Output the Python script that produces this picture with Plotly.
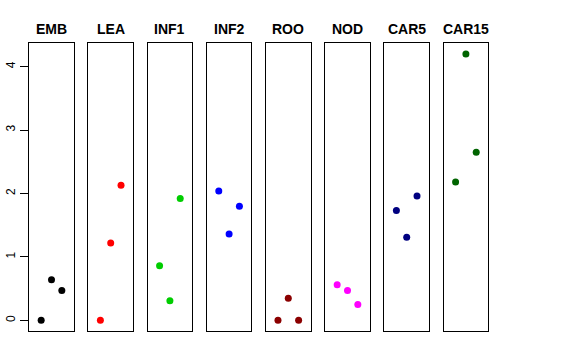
import plotly.graph_objects as go

categories = ["EMB", "LEA", "INF1", "INF2", "ROO", "NOD", "CAR5", "CAR15"]
colors = ["#000000", "#FF0000", "#00CD00", "#0000FF", "#8B0000", "#FF00FF", "#000080", "#006400"]
x_pos = [1, 2, 3]
values = {
    "EMB":   [0.0, 0.64, 0.47],
    "LEA":   [0.0, 1.22, 2.13],
    "INF1":  [0.86, 0.31, 1.92],
    "INF2":  [2.04, 1.36, 1.80],
    "ROO":   [0.0, 0.35, 0.0],
    "NOD":   [0.56, 0.47, 0.25],
    "CAR5":  [1.73, 1.31, 1.96],
    "CAR15": [2.18, 4.20, 2.65],
}
y_ticks = [0, 1, 2, 3, 4]

W, H = 576, 360
fig = go.Figure()
left0, step, pw = 29.2, 59.2, 44.6
top_px, bot_px = 43.3, 331.0
ymin, ymax = -0.168, 4.368

for i, cat in enumerate(categories):
    n = "" if i == 0 else str(i + 1)
    fig.add_trace(go.Scatter(
        x=x_pos, y=values[cat], mode="markers",
        marker=dict(color=colors[i], size=7, line=dict(width=0)),
        xaxis="x" + n, yaxis="y" + n, showlegend=False, hoverinfo="skip"))
    l = left0 + step * i
    dom_x = [l / W, (l + pw) / W]
    dom_y = [1 - bot_px / H, 1 - top_px / H]
    fig.layout["xaxis" + n] = dict(domain=dom_x, range=[-0.16, 4.16], showgrid=False,
                                   zeroline=False, showticklabels=False, ticks="",
                                   showline=True, mirror=True, linecolor="black",
                                   linewidth=1, anchor="y" + n, fixedrange=True)
    ya = dict(domain=dom_y, range=[ymin, ymax], showgrid=False, zeroline=False,
              showline=True, mirror=True, linecolor="black", linewidth=1,
              anchor="x" + n, fixedrange=True, automargin=False)
    if i == 0:
        ya.update(tickvals=y_ticks, ticktext=[str(v) for v in y_ticks],
                  ticks="outside", ticklen=8, tickcolor="black", tickwidth=1,
                  tickangle=-90, showticklabels=True,
                  tickfont=dict(family="Liberation Sans, Arial", size=12, color="black"))
    else:
        ya.update(showticklabels=False, ticks="")
    fig.layout["yaxis" + n] = ya
    fig.add_annotation(x=(l + pw / 2) / W, y=1 - 29 / H, xref="paper", yref="paper",
                       text="<b>" + cat + "</b>", showarrow=False,
                       font=dict(family="Liberation Sans, Arial", size=14, color="black"),
                       xanchor="center", yanchor="middle")

fig.update_layout(width=W, height=H, margin=dict(l=0, r=0, t=0, b=0),
                  paper_bgcolor="white", plot_bgcolor="white")
fig.write_html("out.html", config={"displayModeBar": False},
               post_script="document.body.style.margin='0';document.body.style.padding='0';")
